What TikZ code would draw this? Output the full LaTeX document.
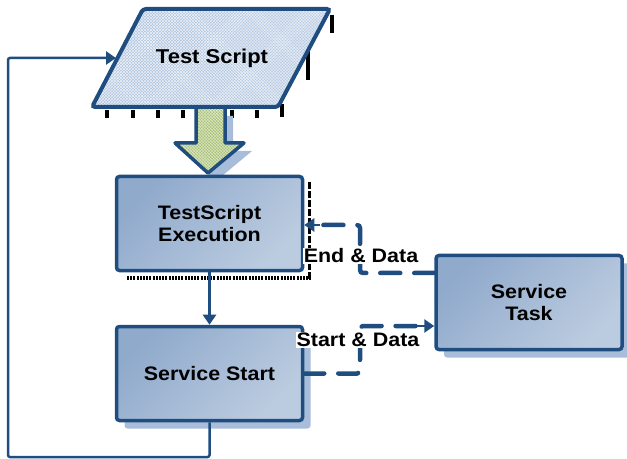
\documentclass[tikz,border=0pt]{standalone}
\usepackage{fontspec}
\setmainfont{Liberation Sans}[FakeStretch=1.1]
\usetikzlibrary{arrows.meta,shadows,patterns}
\definecolor{bord}{HTML}{1F4D7F}
\definecolor{gtop}{HTML}{90AACC}
\definecolor{gbot}{HTML}{BCCCE0}
\definecolor{shad}{HTML}{A7BDD9}
\definecolor{para}{HTML}{B4C8E1}
\definecolor{grn}{HTML}{A8C173}
\tikzset{
  box/.style={draw=bord, line width=3.5bp, rounded corners=3bp,
    top color=gtop, bottom color=gbot, shading angle=45,
    minimum width=186bp, minimum height=94bp, align=center,
    font=\fontsize{19.5bp}{22.5bp}\selectfont\bfseries, inner sep=0pt},
  boxshadow/.style={drop shadow={shadow xshift=8bp, shadow yshift=-8bp, fill=shad, opacity=1}},
  conn/.style={draw=bord, line width=2.5bp},
  tip/.style={-{Triangle[width=13bp,length=10bp]}},
  dconn/.style={draw=bord, line width=4.5bp, line cap=round, dash pattern=on 20bp off 14bp, rounded corners=3bp},
  lbl/.style={fill=white, inner sep=1bp, font=\fontsize{19.5bp}{22bp}\selectfont\bfseries},
  artif/.style={black, line width=3.5bp}
}
\begin{document}
\begin{tikzpicture}[x=1bp, y=-1bp]
\useasboundingbox (0,0) rectangle (627,459);
% artifacts under parallelogram
\foreach \xx in {107,133,158,183,232,257} {\draw[artif] (\xx,110) -- (\xx,118);}
\draw[artif] (282,104) -- (282,117);
\draw[artif] (308,50) -- (308,80);
\draw[artif] (332,15) -- (332,33);
% artifacts around execution box
\draw[black, line width=4bp, dash pattern=on 2bp off 1.2bp] (127,278.5) -- (311,278.5);
\draw[black, line width=3bp, dash pattern=on 7bp off 2bp] (309.5,182) -- (309.5,281);
% block arrow shadow
\fill[shad] (204,116) -- (204,151) -- (183,151) -- (216,181) -- (252,151) -- (233,151) -- (233,116) -- cycle;
% block arrow
\path[fill=grn] (196,106) -- (196,143) -- (175,143) -- (208,173) -- (244,143) -- (225,143) -- (225,106) -- cycle;
\path[pattern=crosshatch, pattern color=white!65!grn] (196,106) -- (196,143) -- (175,143) -- (208,173) -- (244,143) -- (225,143) -- (225,106) -- cycle;
\draw[bord, line width=3.5bp, line join=round] (196,108) -- (196,143) -- (175,143) -- (208,173) -- (244,143) -- (225,143) -- (225,108);
% parallelogram
\path[fill=para, rounded corners=3bp] (143,9) -- (330,9) -- (278,107) -- (92,107) -- cycle;
\path[pattern=crosshatch, pattern color=white!80!para] (143,9) -- (330,9) -- (278,107) -- (92,107) -- cycle;
\draw[bord, line width=4bp, rounded corners=3bp] (143,9) -- (330,9) -- (278,107) -- (92,107) -- cycle;
\node[font=\fontsize{20bp}{22bp}\selectfont\bfseries] (ts) at (212,58) {Test Script};
\coordinate (tsin) at (116,58);
% boxes
\node[box] (exec) at (209.5,223.5) {TestScript\\Execution};
\node[box, boxshadow] (start) at (209.5,373.5) {Service Start};
\node[box, boxshadow] (task) at (529,302.5) {Service\\Task};
% connectors
\draw[conn, tip] (exec.south) -- (start.north);
\draw[draw=bord, line width=2.5bp, rounded corners=2bp, tip] (start.south) -- (209.5,457) -- (8,457) -- (8,58) -- (tsin);
\draw[dconn] (task.west |- 0,273) -- (360,273) -- (360,225) -- (318,225);
\draw[conn, tip] (320,225) -- (exec.east |- 0,225);
\draw[dconn] (start.east) -- (360,373.5) -- (360,326) -- (420,326);
\draw[conn, tip] (416,326) -- (task.west |- 0,326);
\node[lbl] (l1) at (361,256) {End \& Data};
\node[lbl] (l2) at (358,340) {Start \& Data};
\end{tikzpicture}
\end{document}
